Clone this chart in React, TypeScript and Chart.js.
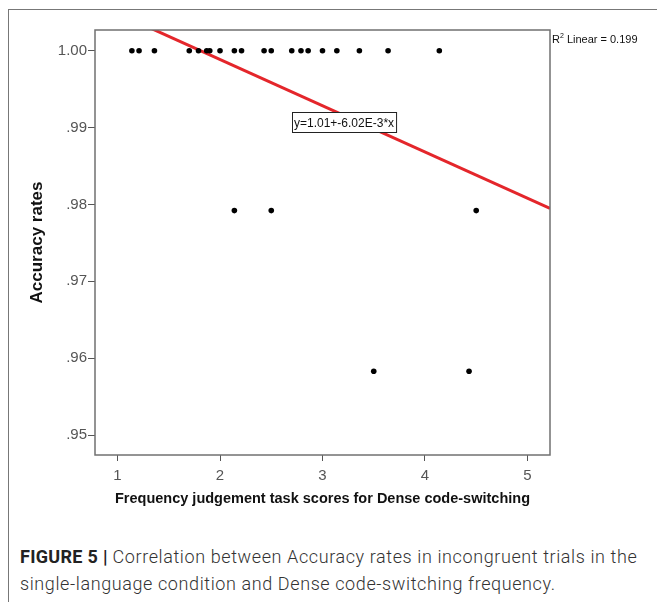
import React, { useEffect, useRef } from "react";
import { Chart, registerables } from "chart.js";

Chart.register(...registerables);

// Frequency judgement task scores (x) and accuracy rates (y)
const scoresX = [
  1.14, 1.21, 1.36, 1.70, 1.79, 1.87, 1.90, 2.00, 2.14, 2.21,
  2.43, 2.50, 2.70, 2.79, 2.86, 3.00, 3.14, 3.36, 3.64, 4.14,
  2.14, 2.50, 4.50,
  3.50, 4.43,
];
const accuracyY = [
  1.0, 1.0, 1.0, 1.0, 1.0, 1.0, 1.0, 1.0, 1.0, 1.0,
  1.0, 1.0, 1.0, 1.0, 1.0, 1.0, 1.0, 1.0, 1.0, 1.0,
  0.9792, 0.9792, 0.9792,
  0.9583, 0.9583,
];

// Linear fit line end points
const fitX = [0.78, 5.22];
const fitY = [1.0062, 0.9795];

const xTicks = [1, 2, 3, 4, 5];
const xTickLabels = ["1", "2", "3", "4", "5"];
const yTicks = [0.95, 0.96, 0.97, 0.98, 0.99, 1.0];
const yTickLabels = [".95", ".96", ".97", ".98", ".99", "1.00"];

const xRange = [0.78, 5.22];
const yRange = [0.9474, 1.0027];

const eqText = "y=1.01+-6.02E-3*x";
const eqAt = [3.21, 0.9907];
const r2Value = "0.199";

const xTitle = "Frequency judgement task scores for Dense code-switching";
const yTitle = "Accuracy rates";

const FONT = '"Liberation Sans", Arial, sans-serif';

const annotPlugin = {
  id: "spssAnnot",
  afterDatasetsDraw(chart: any) {
    const { ctx, chartArea: a, scales } = chart;
    const x = scales.x;
    const y = scales.y;
    ctx.save();
    // plot frame
    ctx.strokeStyle = "#707070";
    ctx.lineWidth = 1.5;
    ctx.strokeRect(a.left, a.top, a.right - a.left, a.bottom - a.top);

    // equation label
    const cx = x.getPixelForValue(eqAt[0]);
    const cy = y.getPixelForValue(eqAt[1]);
    ctx.font = "12px " + FONT;
    const w = ctx.measureText(eqText).width + 4;
    const h = 20;
    ctx.fillStyle = "#ffffff";
    ctx.fillRect(Math.round(cx - w / 2) + 0.5, Math.round(cy - h / 2) + 0.5, w, h);
    ctx.strokeStyle = "#222";
    ctx.lineWidth = 1;
    ctx.strokeRect(Math.round(cx - w / 2) + 0.5, Math.round(cy - h / 2) + 0.5, w, h);
    ctx.fillStyle = "#111";
    ctx.textAlign = "center";
    ctx.textBaseline = "middle";
    ctx.fillText(eqText, cx, cy + 1);

    // R² label
    const rx = a.right + 2;
    const ry = a.top + 10;
    ctx.textAlign = "left";
    ctx.textBaseline = "middle";
    ctx.font = "11px " + FONT;
    ctx.fillText("R", rx, ry);
    const rw = ctx.measureText("R").width;
    ctx.font = "7px " + FONT;
    ctx.fillText("2", rx + rw, ry - 4);
    const sw = ctx.measureText("2").width;
    ctx.font = "11px " + FONT;
    ctx.fillText(" Linear = " + r2Value, rx + rw + sw, ry);
    ctx.restore();
  },
};

export default function App() {
  const ref = useRef<HTMLCanvasElement | null>(null);

  useEffect(() => {
    if (!ref.current) return;
    const points = scoresX.map((v, i) => ({ x: v, y: accuracyY[i] }));
    const fit = fitX.map((v, i) => ({ x: v, y: fitY[i] }));
    const chart = new Chart(ref.current, {
      type: "scatter",
      data: {
        datasets: [
          {
            label: "Observed",
            data: points,
            pointRadius: 2.8,
            pointBackgroundColor: "#000",
            pointBorderWidth: 0,
            order: 0,
          },
          {
            label: "Linear",
            data: fit,
            showLine: true,
            pointRadius: 0,
            borderColor: "#e4262b",
            borderWidth: 3,
            clip: 0,
            order: 1,
          } as any,
        ],
      },
      options: {
        animation: false,
        responsive: false,
        devicePixelRatio: 1,
        layout: { padding: { top: 30, right: 107, left: 0, bottom: 12 } },
        plugins: { legend: { display: false }, tooltip: { enabled: false } },
        scales: {
          x: {
            type: "linear",
            min: xRange[0],
            max: xRange[1],
            afterFit: (s: any) => {
              s.height = 53;
            },
            afterBuildTicks: (s: any) => {
              s.ticks = xTicks.map((v) => ({ value: v }));
            },
            ticks: {
              callback: (v: any) => {
                const i = xTicks.findIndex((t) => Math.abs(t - v) < 1e-9);
                return i >= 0 ? xTickLabels[i] : "";
              },
              font: { family: FONT, size: 15 },
              color: "#555",
              padding: 6,
              maxRotation: 0,
            },
            grid: { drawOnChartArea: false, drawTicks: true, tickLength: 6, color: "#555", lineWidth: 1 },
            border: { display: false },
            title: {
              display: true,
              text: xTitle,
              font: { family: FONT, size: 14.5, weight: "bold" },
              color: "#111",
              padding: 0,
            },
          },
          y: {
            type: "linear",
            min: yRange[0],
            max: yRange[1],
            afterFit: (s: any) => {
              s.width = 95;
            },
            afterBuildTicks: (s: any) => {
              s.ticks = yTicks.map((v) => ({ value: v }));
            },
            ticks: {
              callback: (v: any) => {
                const i = yTicks.findIndex((t) => Math.abs(t - v) < 1e-9);
                return i >= 0 ? yTickLabels[i] : "";
              },
              font: { family: FONT, size: 15 },
              color: "#555",
              padding: 1,
            },
            grid: { drawOnChartArea: false, drawTicks: true, tickLength: 7, color: "#555", lineWidth: 1 },
            border: { display: false },
            title: {
              display: true,
              text: yTitle,
              font: { family: FONT, size: 17, weight: "bold" },
              color: "#111",
              padding: { top: 27, bottom: 0 },
            },
          },
        },
      },
      plugins: [annotPlugin],
    } as any);
    return () => chart.destroy();
  }, []);

  return (
    <div style={{ position: "fixed", left: 0, top: 0, width: 657, height: 602, background: "#fff", overflow: "hidden" }}>
      <div
        style={{
          position: "absolute",
          left: 8,
          top: 9,
          width: 649,
          height: 593,
          borderLeft: "1px solid #777",
          borderTop: "1px solid #777",
          boxSizing: "border-box",
        }}
      />
      <canvas ref={ref} width={657} height={520} style={{ position: "absolute", left: 0, top: 0, display: "block" }} />
      <div
        style={{
          position: "absolute",
          left: 20,
          top: 543,
          width: 636,
          fontFamily: "Roboto, 'Liberation Sans', sans-serif",
          fontSize: 18,
          lineHeight: "27px",
          letterSpacing: "0.6px",
          color: "#333",
          fontWeight: 300,
        }}
      >
        <span style={{ fontWeight: 700, color: "#222", letterSpacing: "0.3px" }}>FIGURE 5 | </span>
        Correlation between Accuracy rates in incongruent trials in the single-language condition and Dense code-switching frequency.
      </div>
    </div>
  );
}
